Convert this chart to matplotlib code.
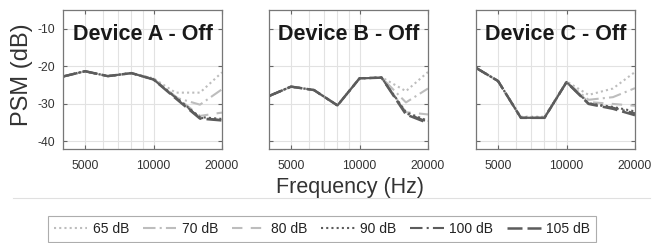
import matplotlib
matplotlib.use("Agg")
import matplotlib.pyplot as plt
from matplotlib.lines import Line2D
from matplotlib.ticker import FixedLocator, NullFormatter

plt.rcParams['font.family'] = ['Liberation Sans', 'DejaVu Sans']
plt.rcParams['axes.unicode_minus'] = False

freqs = [4000, 5000, 6300, 8000, 10000, 12500, 16000, 20000]
levels = ["65 dB", "70 dB", "80 dB", "90 dB", "100 dB", "105 dB"]
devices = ["Device A - Off", "Device B - Off", "Device C - Off"]

psm_A = {
    "65 dB":  [-22.7, -21.3, -22.6, -21.8, -23.2, -27.0, -27.0, -21.6],
    "70 dB":  [-22.7, -21.3, -22.6, -21.8, -23.3, -28.3, -30.2, -26.1],
    "80 dB":  [-22.7, -21.3, -22.6, -21.8, -23.4, -28.0, -33.2, -32.3],
    "90 dB":  [-22.7, -21.3, -22.6, -21.8, -23.5, -28.2, -33.5, -34.0],
    "100 dB": [-22.7, -21.3, -22.6, -21.8, -23.5, -28.3, -33.7, -34.3],
    "105 dB": [-22.7, -21.3, -22.6, -21.8, -23.5, -28.5, -33.9, -34.4],
}
psm_B = {
    "65 dB":  [-27.9, -25.4, -26.3, -30.4, -23.2, -22.9, -26.6, -21.5],
    "70 dB":  [-27.9, -25.4, -26.3, -30.4, -23.2, -23.0, -29.6, -25.9],
    "80 dB":  [-27.9, -25.4, -26.3, -30.4, -23.2, -23.0, -32.2, -32.8],
    "90 dB":  [-27.9, -25.4, -26.3, -30.4, -23.2, -23.0, -32.2, -34.5],
    "100 dB": [-27.9, -25.4, -26.3, -30.4, -23.2, -23.0, -32.5, -34.8],
    "105 dB": [-27.9, -25.4, -26.3, -30.4, -23.2, -23.0, -32.8, -35.1],
}
psm_C = {
    "65 dB":  [-20.4, -23.9, -33.4, -33.4, -24.0, -27.6, -25.9, -21.5],
    "70 dB":  [-20.4, -23.9, -33.7, -33.7, -24.2, -28.9, -28.2, -25.8],
    "80 dB":  [-20.4, -23.9, -33.7, -33.7, -24.2, -29.5, -30.0, -30.5],
    "90 dB":  [-20.4, -23.9, -33.7, -33.7, -24.2, -29.8, -30.8, -32.0],
    "100 dB": [-20.4, -23.9, -33.7, -33.7, -24.2, -29.9, -31.0, -32.5],
    "105 dB": [-20.4, -23.9, -33.7, -33.7, -24.2, -30.0, -31.3, -33.0],
}
panels = [psm_A, psm_B, psm_C]

xticks = [5000, 10000, 20000]
xtick_labels = ["5000", "10000", "20000"]
yticks = [-40, -30, -20, -10]
ytick_labels = ["-40", "-30", "-20", "-10"]

light = "#bdbdbd"
dark = "#5c5c5c"
styles = {
    "65 dB":  dict(color=light, ls=(0, (1, 1.5)), lw=1.5),
    "70 dB":  dict(color=light, ls=(0, (6, 2, 1, 2)), lw=1.5),
    "80 dB":  dict(color=light, ls=(0, (5, 4)), lw=1.5),
    "90 dB":  dict(color=dark, ls=(0, (1, 1.5)), lw=1.5),
    "100 dB": dict(color=dark, ls=(0, (6, 2, 1, 2)), lw=1.5),
    "105 dB": dict(color=dark, ls=(0, (6, 2)), lw=1.8),
}

W, H = 654, 243
fig = plt.figure(figsize=(W / 100, H / 100), dpi=100)
fig.patch.set_facecolor("white")

lefts = [63, 269, 476]
aw = 159
top, bottom = 10, 149

for i, (data, name) in enumerate(zip(panels, devices)):
    ax = fig.add_axes([lefts[i] / W, (H - bottom) / H, aw / W, (bottom - top) / H])
    for lev in levels:
        ax.plot(freqs, data[lev], **styles[lev])
    ax.set_xscale("log")
    ax.set_xlim(4000, 20000)
    ax.set_ylim(-42, -5)
    ax.xaxis.set_major_locator(FixedLocator(xticks))
    ax.set_xticklabels(xtick_labels)
    ax.xaxis.set_minor_locator(FixedLocator([4000, 6000, 7000, 8000, 9000]))
    ax.xaxis.set_minor_formatter(NullFormatter())
    ax.set_yticks(yticks)
    if i == 0:
        ax.set_yticklabels(ytick_labels)
    else:
        ax.set_yticklabels([])
    ax.grid(True, which="major", color="#e2e2e2", lw=0.8)
    ax.grid(True, which="minor", axis="x", color="#e2e2e2", lw=0.8)
    ax.set_axisbelow(True)
    ax.tick_params(which="both", direction="in", top=True, right=True,
                   length=3, width=0.8, color="#666666",
                   labelsize=8.7, labelcolor="#333333", pad=6)
    ax.tick_params(axis="x", pad=8)
    ax.tick_params(which="minor", length=0)
    for s in ax.spines.values():
        s.set_color("#777777")
        s.set_linewidth(0.9)
    ax.text(0.5, 0.784, name, transform=ax.transAxes, ha="center", va="baseline",
            fontsize=15.5, fontweight="bold", color="#1a1a1a")

fig.text(22 / W, 1 - 75 / H, "PSM (dB)", rotation=90, ha="center", va="center",
         fontsize=17, color="#333333")
fig.text(349.5 / W, (H - 193) / H, "Frequency (Hz)", ha="center", va="baseline",
         fontsize=15.5, color="#333333")

fig.add_artist(Line2D([13 / W, 650 / W], [1 - 198 / H, 1 - 198 / H],
                      transform=fig.transFigure, color="#e0e0e0", lw=0.8))

handles = [Line2D([], [], **styles[lev]) for lev in levels]
leg = fig.legend(handles, levels, loc="center", bbox_to_anchor=(322 / W, 1 - 229 / H),
                 ncol=6, frameon=True, fancybox=False, fontsize=10,
                 handlelength=2.4, handletextpad=0.4, columnspacing=1.0,
                 borderpad=0.4, labelcolor="#222222")
leg.get_frame().set_edgecolor("#999999")
leg.get_frame().set_linewidth(0.8)

fig.savefig("out.png", dpi=100, facecolor="white")
